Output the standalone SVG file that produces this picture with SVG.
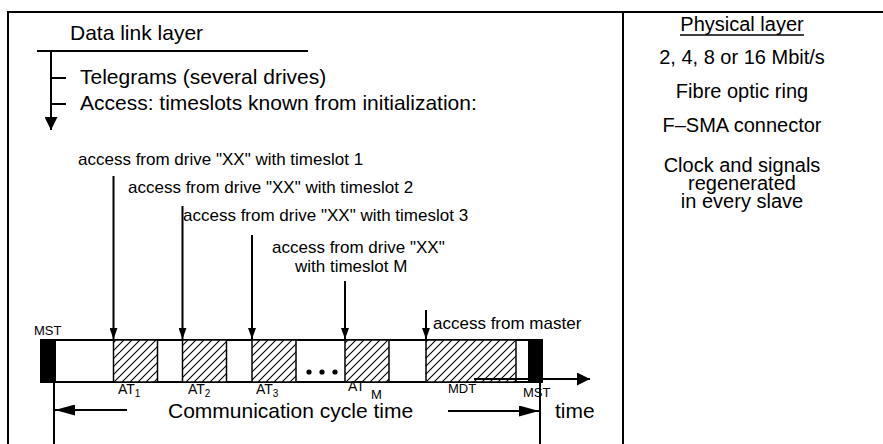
<svg xmlns="http://www.w3.org/2000/svg" width="883" height="444" viewBox="0 0 883 444">
<defs>
<style>
text{font-family:"Liberation Sans",Arial,sans-serif;fill:#000}
.t21{font-size:21px}
.t17{font-size:17px}
.t20{font-size:20px}
.s14{font-size:14px}
.s13{font-size:13px}
.s10{font-size:10px}
.ln{stroke:#000;stroke-width:2;fill:none}
.slot{fill:url(#hatch);stroke:#000;stroke-width:1.5}
.blk{fill:#000}
.mid{text-anchor:middle}
</style>
<pattern id="hatch" patternUnits="userSpaceOnUse" width="8" height="8">
<rect width="8" height="8" fill="#fff"/>
<path d="M-2,2 L2,-2 M0,8 L8,0 M6,10 L10,6" stroke="#000" stroke-width="1.1"/>
</pattern>
<marker id="ah" viewBox="0 0 10 10" refX="10" refY="5" markerWidth="11" markerHeight="8" markerUnits="userSpaceOnUse" preserveAspectRatio="none" orient="auto">
<path d="M0,0 L10,5 L0,10 z" fill="#000"/>
</marker>
<marker id="ahd" viewBox="0 0 10 10" refX="10" refY="5" markerWidth="13" markerHeight="13" markerUnits="userSpaceOnUse" preserveAspectRatio="none" orient="auto">
<path d="M0,0 L10,5 L0,10 z" fill="#000"/>
</marker>
<marker id="ahb" viewBox="0 0 10 10" refX="10" refY="5" markerWidth="20" markerHeight="11" markerUnits="userSpaceOnUse" preserveAspectRatio="none" orient="auto">
<path d="M0,0 L10,5 L0,10 z" fill="#000"/>
</marker>
</defs>
<rect width="883" height="444" fill="#fff"/>

<g id="frame">
<path class="ln" d="M8,444 V12 H883"/>
<line class="ln" x1="623" y1="12" x2="623" y2="444"/>
</g>

<g id="data-link-layer">
<text class="t21" x="70" y="40">Data link layer</text>
<line class="ln" x1="37" y1="51" x2="308" y2="51"/>
<text class="t21" x="80" y="84">Telegrams (several drives)</text>
<text class="t21" x="80" y="110">Access: timeslots known from initialization:</text>
</g>

<g id="physical-layer">
<text class="t20 mid" x="742" y="31">Physical layer</text>
<line x1="680" y1="35" x2="804" y2="35" stroke="#000" stroke-width="1.4"/>
<text class="t20 mid" x="742" y="64">2, 4, 8 or 16 Mbit/s</text>
<text class="t20 mid" x="742" y="98">Fibre optic ring</text>
<text class="t20 mid" x="742" y="132">F–SMA connector</text>
<text class="t20 mid" x="742" y="172">Clock and signals</text>
<text class="t20 mid" x="742" y="190">regenerated</text>
<text class="t20 mid" x="742" y="208">in every slave</text>
</g>

<g id="access-labels">
<text class="t17" x="78" y="165">access from drive "XX" with timeslot 1</text>
<text class="t17" x="128" y="193">access from drive "XX" with timeslot 2</text>
<text class="t17" x="183" y="221">access from drive "XX" with timeslot 3</text>
<text class="t17" x="272" y="253">access from drive "XX"</text>
<text class="t17" x="295" y="272">with timeslot M</text>
<text class="t17" x="433" y="329">access from master</text>
</g>

<g id="timeline">
<line class="ln" x1="40" y1="340" x2="543" y2="340"/>
<line class="ln" x1="40" y1="382" x2="543" y2="382"/>
<rect class="blk" x="40" y="339" width="16" height="44"/>
<rect class="blk" x="528" y="339" width="15" height="44"/>
<rect class="slot" x="113.5" y="340" width="44" height="42"/>
<rect class="slot" x="182.5" y="340" width="44" height="42"/>
<rect class="slot" x="252" y="340" width="44" height="42"/>
<rect class="slot" x="345" y="340" width="44" height="42"/>
<rect class="slot" x="426" y="340" width="90" height="42"/>
<circle cx="309" cy="372" r="2.6"/>
<circle cx="322" cy="372" r="2.6"/>
<circle cx="335" cy="372" r="2.6"/>
<text class="s13" x="34" y="335">MST</text>
<text class="s14" x="118" y="394">AT<tspan class="s10" dy="3">1</tspan></text>
<text class="s14" x="188" y="394">AT<tspan class="s10" dy="3">2</tspan></text>
<text class="s14" x="256" y="394">AT<tspan class="s10" dy="3">3</tspan></text>
<text class="s14" x="348" y="391">AT</text>
<text class="s13" x="371" y="399">M</text>
<text class="s13" x="448" y="393">MDT</text>
<text class="s13" x="523" y="397">MST</text>
<text class="t21" x="168" y="418">Communication cycle time</text>
<text class="t21" x="555" y="418">time</text>
</g>

<g id="connectors">
<line class="ln" x1="51" y1="51" x2="51" y2="130" marker-end="url(#ahd)"/>
<line class="ln" x1="51" y1="78" x2="66" y2="78"/>
<line class="ln" x1="51" y1="104" x2="66" y2="104"/>
<line class="ln" x1="113.5" y1="176" x2="113.5" y2="339" marker-end="url(#ah)"/>
<line class="ln" x1="182.5" y1="206" x2="182.5" y2="339" marker-end="url(#ah)"/>
<line class="ln" x1="252" y1="235" x2="252" y2="339" marker-end="url(#ah)"/>
<line class="ln" x1="345" y1="281" x2="345" y2="339" marker-end="url(#ah)"/>
<line class="ln" x1="426" y1="310" x2="426" y2="339" marker-end="url(#ah)"/>
<line class="ln" x1="474" y1="379" x2="590" y2="379" marker-end="url(#ahd)"/>
<line class="ln" x1="54" y1="382" x2="54" y2="444"/>
<line class="ln" x1="540" y1="383" x2="540" y2="444"/>
<line class="ln" x1="127" y1="410" x2="55" y2="410" marker-end="url(#ahb)"/>
<line class="ln" x1="448" y1="411" x2="539" y2="411" marker-end="url(#ahb)"/>
</g>
</svg>
